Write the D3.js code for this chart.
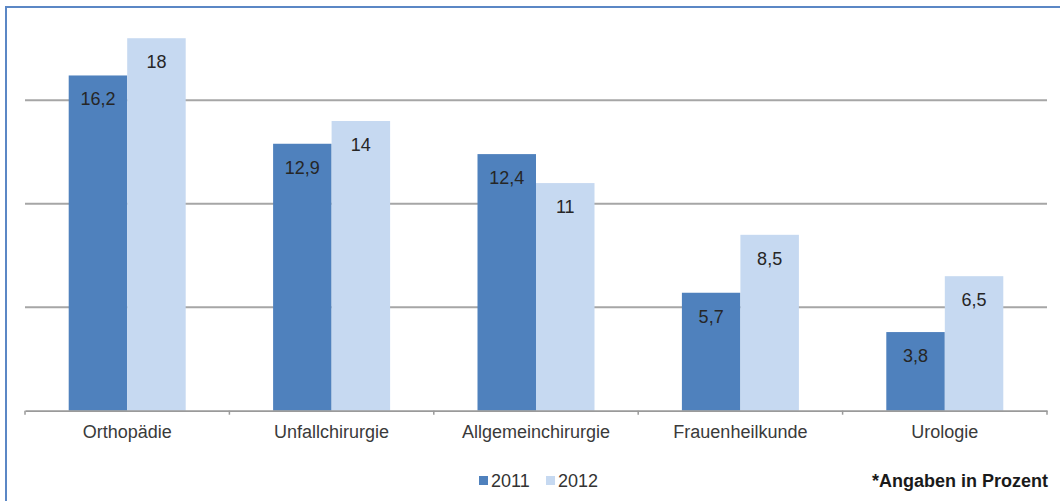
<!DOCTYPE html>
<html>
<head>
<meta charset="utf-8">
<script src="https://cdn.jsdelivr.net/npm/d3@7/dist/d3.min.js"></script>
<style>
  html, body { margin: 0; padding: 0; background: #fff; }
  svg { display: block; font-family: "Liberation Sans", Arial, sans-serif; }
</style>
</head>
<body>
<svg id="chart" width="1060" height="501"></svg>
<script>
const categories = ["Orthopädie", "Unfallchirurgie", "Allgemeinchirurgie", "Frauenheilkunde", "Urologie"];
const seriesNames = ["2011", "2012"];
const values2011 = [16.2, 12.9, 12.4, 5.7, 3.8];
const values2012 = [18, 14, 11, 8.5, 6.5];
const labels2011 = ["16,2", "12,9", "12,4", "5,7", "3,8"];
const labels2012 = ["18", "14", "11", "8,5", "6,5"];
const gridTicks = [5, 10, 15];
const note = "*Angaben in Prozent";

const colors = ["#4f81bd", "#c6d9f1"];
const svg = d3.select("#chart");

// frame
svg.append("rect")
  .attr("x", 6).attr("y", 7).attr("width", 1200).attr("height", 700)
  .attr("fill", "none").attr("stroke", "#5b87c5").attr("stroke-width", 2);

const x = d3.scaleBand().domain(categories).range([25, 1047]).paddingInner(0).paddingOuter(0);
const barW = 58.5;
const xs = d3.scaleBand().domain(seriesNames)
  .range([x.bandwidth() / 2 - barW, x.bandwidth() / 2 + barW]).padding(0);
const y = d3.scaleLinear().domain([0, 15]).range([410.7, 100.3]);

// gridlines
svg.append("g").selectAll("line").data(gridTicks).join("line")
  .attr("x1", 25).attr("x2", 1047)
  .attr("y1", d => y(d)).attr("y2", d => y(d))
  .attr("stroke", "#a6a6a6").attr("stroke-width", 2);

const data = categories.map((c, i) => ({
  cat: c,
  vals: [
    { s: seriesNames[0], v: values2011[i], l: labels2011[i] },
    { s: seriesNames[1], v: values2012[i], l: labels2012[i] }
  ]
}));

const groups = svg.append("g").selectAll("g").data(data).join("g")
  .attr("transform", d => `translate(${x(d.cat)},0)`);

groups.selectAll("rect").data(d => d.vals).join("rect")
  .attr("x", d => xs(d.s)).attr("width", xs.bandwidth())
  .attr("y", d => y(d.v)).attr("height", d => y(0) - y(d.v))
  .attr("fill", (d, i) => colors[i]);

groups.selectAll("text").data(d => d.vals).join("text")
  .attr("x", d => xs(d.s) + xs.bandwidth() / 2)
  .attr("y", d => y(d.v) + 30)
  .attr("text-anchor", "middle")
  .attr("font-size", 18)
  .attr("fill", "#262626")
  .text(d => d.l);

// x axis
const xAxis = d3.axisBottom(x).tickSize(0).tickPadding(0);
const ax = svg.append("g").attr("transform", `translate(0,${y(0)})`).call(xAxis);
ax.select(".domain").attr("stroke", "#9a9a9a").attr("stroke-width", 1.8);
ax.selectAll(".tick text")
  .attr("y", 27).attr("dy", 0)
  .attr("font-size", 18).attr("font-family", "'Liberation Sans', Arial, sans-serif")
  .attr("fill", "#3a3a3a");
// boundary ticks
const bounds = categories.map(c => x(c)).concat([x.range()[1]]);
ax.append("g").selectAll("line").data(bounds).join("line")
  .attr("x1", d => d).attr("x2", d => d).attr("y1", 0).attr("y2", 4)
  .attr("stroke", "#9a9a9a").attr("stroke-width", 1.5);

// legend
const legend = svg.append("g");
const legX = [479, 546];
seriesNames.forEach((s, i) => {
  legend.append("rect").attr("x", legX[i]).attr("y", 476).attr("width", 9).attr("height", 9)
    .attr("fill", colors[i]);
  legend.append("text").attr("x", legX[i] + 12).attr("y", 487)
    .attr("font-size", 18).attr("fill", "#333").text(s);
});

svg.append("text").attr("x", 1048).attr("y", 487).attr("text-anchor", "end")
  .attr("font-size", 18).attr("font-weight", "bold").attr("fill", "#1a1a1a").text(note);
</script>
</body>
</html>
